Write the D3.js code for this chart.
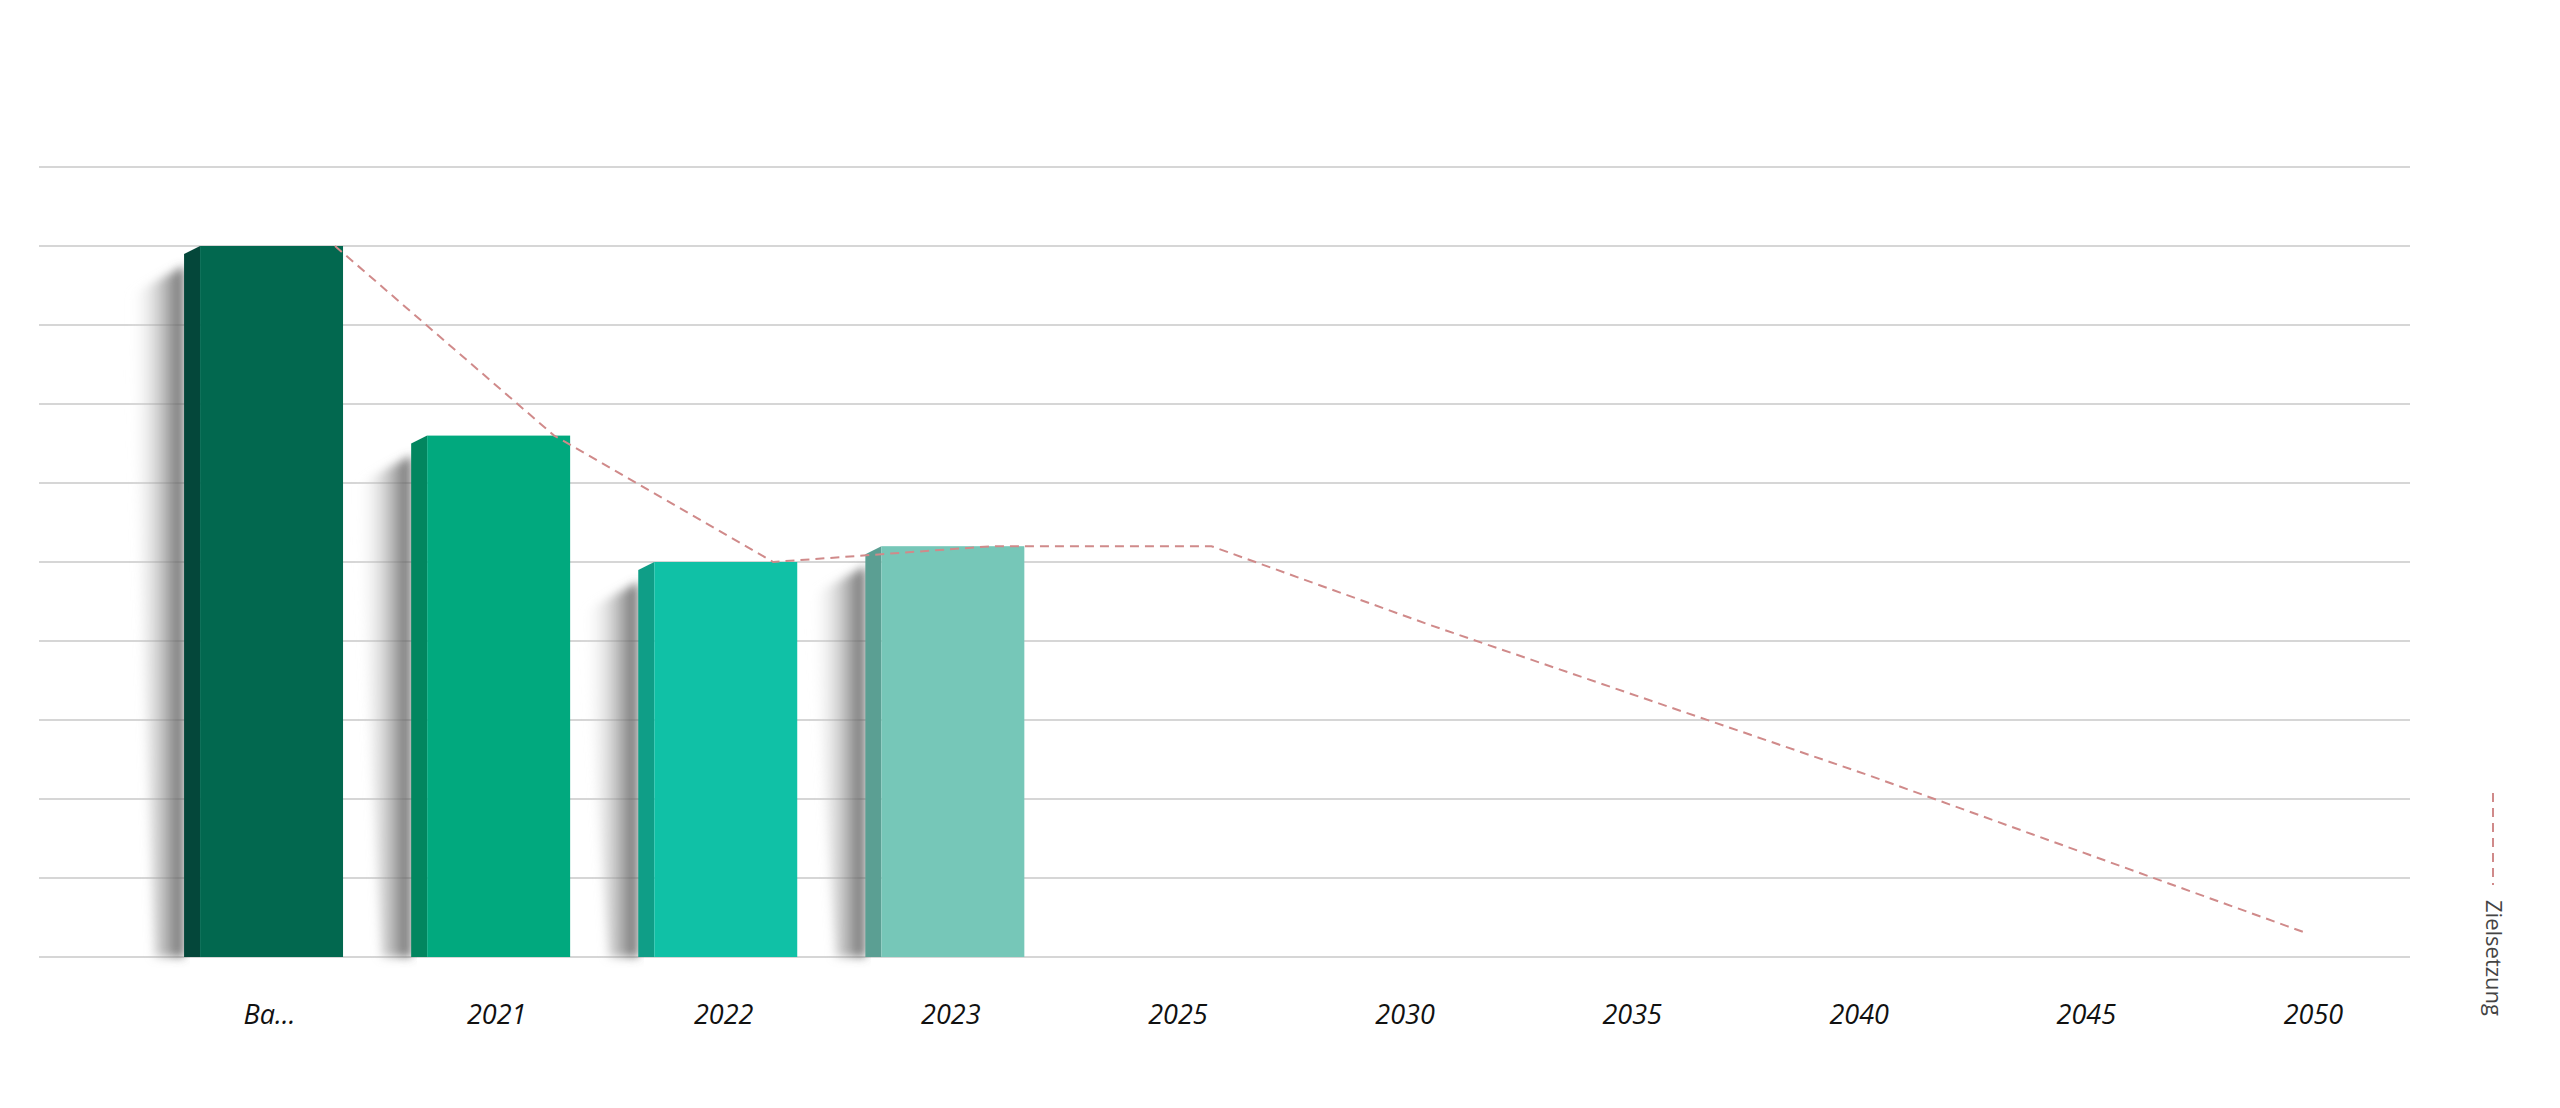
<!DOCTYPE html>
<html><head><meta charset="utf-8">
<script src="https://cdn.jsdelivr.net/npm/d3@7"></script>
<style>body{margin:0;background:#fff}</style>
</head><body>
<svg id="chart" width="2560" height="1108"></svg>
<script>
var categories = ["Ba…","2021","2022","2023","2025","2030","2035","2040","2045","2050"]
var barValues = [90, 66, 50, 52]
var barColors = ["#02684f","#01a97e","#10c1a6","#76c7b8"]
var sideColors = ["#04473a","#02865f","#0f9e87","#5b9f93"]
var targetValues = [90, 66, 50, 52, 52, 42, 32.5, 23, 13, 3]
var gridTicks = d3.range(0, 101, 10)

var svg = d3.select("#chart")
var y = d3.scaleLinear().domain([0, 100]).range([957, 167])
var x = d3.scaleBand().domain(categories).range([150, 2421]).paddingInner(0.3).paddingOuter(0.15)
var xLine = d3.scalePoint().domain(categories).range([335, 2307])
var side = 16

var defs = svg.append("defs")
var grad = defs.append("linearGradient").attr("id", "shade")
grad.append("stop").attr("offset", "0%").attr("stop-color", "#fff").attr("stop-opacity", 0)
grad.append("stop").attr("offset", "70%").attr("stop-color", "#888").attr("stop-opacity", 0.7)
grad.append("stop").attr("offset", "100%").attr("stop-color", "#555").attr("stop-opacity", 0.9)
defs.append("filter").attr("id", "blur").append("feGaussianBlur").attr("stdDeviation", 5)

svg.append("g").selectAll("line").data(gridTicks).join("line")
  .attr("x1", 39).attr("x2", 2410)
  .attr("y1", d => y(d)).attr("y2", d => y(d))
  .attr("stroke", "#c8c8c8").attr("stroke-width", 1.5)

var bars = svg.append("g").selectAll("g").data(barValues).join("g")
bars.append("path")
  .attr("filter", "url(#blur)")
  .attr("fill", "url(#shade)")
  .attr("d", (d, i) => {
    var x0 = x(categories[i]), t = y(d) + 20
    return "M" + (x0 - 55) + "," + (t + 30) + "L" + x0 + "," + t + "L" + x0 + "," + y(0) + "L" + (x0 - 30) + "," + y(0) + "Z"
  })
bars.append("path")
  .attr("fill", (d, i) => sideColors[i])
  .attr("d", (d, i) => {
    var x0 = x(categories[i]), t = y(d)
    return "M" + x0 + "," + (t + 8) + "L" + (x0 + side) + "," + t + "L" + (x0 + side) + "," + y(0) + "L" + x0 + "," + y(0) + "Z"
  })
bars.append("rect")
  .attr("x", (d, i) => x(categories[i]) + side)
  .attr("y", d => y(d))
  .attr("width", x.bandwidth() - side)
  .attr("height", d => y(0) - y(d))
  .attr("fill", (d, i) => barColors[i])

var line = d3.line().x((d, i) => xLine(categories[i])).y(d => y(d))
svg.append("path").datum(targetValues)
  .attr("d", line).attr("fill", "none")
  .attr("stroke", "#d08a8a").attr("stroke-width", 2).attr("stroke-dasharray", "9,6")

svg.append("g").selectAll("text").data(categories).join("text")
  .attr("x", d => x(d) + x.bandwidth() / 2 + 6)
  .attr("y", 1024)
  .attr("text-anchor", "middle")
  .attr("font-family", "Open Sans, sans-serif")
  .attr("font-style", "italic").attr("font-weight", 500)
  .attr("font-size", 27).attr("fill", "#111")
  .text(d => d)

svg.append("line").attr("x1", 2493).attr("x2", 2493).attr("y1", 793).attr("y2", 885)
  .attr("stroke", "#d08a8a").attr("stroke-width", 2).attr("stroke-dasharray", "9,6")
svg.append("text").attr("transform", "translate(2486,900) rotate(90)")
  .attr("font-family", "Open Sans, sans-serif").attr("font-size", 22).attr("fill", "#444")
  .text("Zielsetzung")
</script>
</body></html>
